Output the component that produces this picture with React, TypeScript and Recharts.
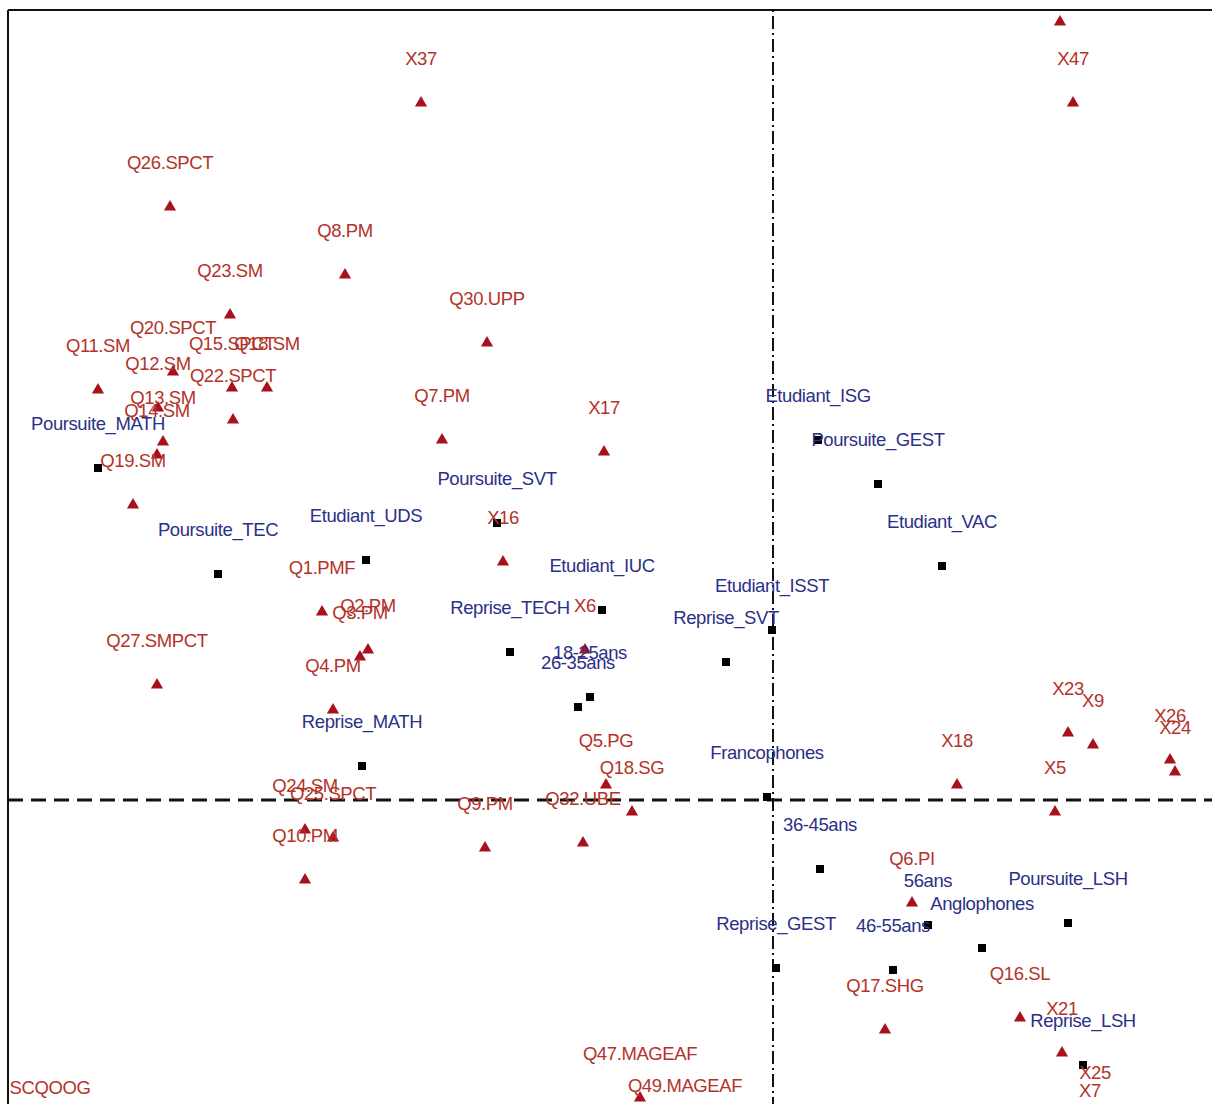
import {
  ScatterChart,
  Scatter,
  XAxis,
  YAxis,
  ZAxis,
  ReferenceLine,
  LabelList,
} from "recharts";

// modalities (red triangles)
const modNames = [
  "X37", "X47", "", "Q26.SPCT", "Q8.PM", "Q23.SM", "Q30.UPP", "Q20.SPCT",
  "Q15.SPCT", "Q18.SM", "Q11.SM", "Q12.SM", "Q22.SPCT", "Q13.SM", "Q14.SM",
  "Q19.SM", "Q7.PM", "X17", "X16", "Q1.PMF", "Q3.PM", "Q2.PM", "Q4.PM",
  "Q27.SMPCT", "Q24.SM", "Q25.SPCT", "Q10.PM", "Q9.PM", "Q32.UBE", "Q5.PG",
  "Q18.SG", "X6", "X18", "X23", "X9", "X5", "X26", "X24", "Q6.PI", "Q17.SHG",
  "Q16.SL", "X21", "X25", "X7", "Q47.MAGEAF", "Q49.MAGEAF", "SCQOOG",
];
const modX = [
  -0.704, 0.6, 0.574, -1.206, -0.856, -1.086, -0.572, -1.2,
  -1.082, -1.012, -1.35, -1.23, -1.08, -1.22, -1.232,
  -1.28, -0.662, -0.338, -0.54, -0.902, -0.826, -0.81, -0.88,
  -1.232, -0.936, -0.88, -0.936, -0.576, -0.38, -0.334,
  -0.282, -0.376, 0.368, 0.59, 0.64, 0.564, 0.794, 0.804, 0.278, 0.224,
  0.494, 0.578, 0.644, 0.634, -0.266, -0.176, -1.446,
];
const modY = [
  1.394, 1.394, 1.556, 1.186, 1.05, 0.97, 0.914, 0.856,
  0.824, 0.824, 0.82, 0.784, 0.76, 0.716, 0.69,
  0.59, 0.72, 0.696, 0.476, 0.376, 0.286, 0.3, 0.18,
  0.23, -0.06, -0.076, -0.16, -0.096, -0.086, 0.03,
  -0.024, 0.3, 0.03, 0.134, 0.11, -0.024, 0.08, 0.056, -0.206, -0.46,
  -0.436, -0.506, -0.634, -0.67, -0.596, -0.66, -0.664,
];

// individuals' groups (black squares, blue labels)
const grpNames = [
  "Poursuite_MATH", "Poursuite_TEC", "Etudiant_UDS", "Poursuite_SVT",
  "Reprise_MATH", "Reprise_TECH", "Etudiant_IUC", "26-35ans", "18-25ans",
  "Etudiant_ISST", "Reprise_SVT", "Francophones", "Etudiant_ISG",
  "Poursuite_GEST", "Etudiant_VAC", "36-45ans", "56ans", "Anglophones",
  "Poursuite_LSH", "Reprise_GEST", "46-55ans", "Reprise_LSH",
];
const grpX = [
  -1.35, -1.11, -0.814, -0.552, -0.822, -0.526, -0.342, -0.39, -0.366,
  -0.002, -0.094, -0.012, 0.09, 0.21, 0.338, 0.094, 0.31, 0.418,
  0.59, 0.006, 0.24, 0.62,
];
const grpY = [
  0.664, 0.452, 0.48, 0.554, 0.068, 0.296, 0.38, 0.186, 0.206,
  0.34, 0.276, 0.006, 0.72, 0.632, 0.468, -0.138, -0.25, -0.296,
  -0.246, -0.336, -0.34, -0.53,
];

const modData = modNames.map((name, i) => ({ name, x: modX[i], y: modY[i] }));
const grpData = grpNames.map((name, i) => ({ name, x: grpX[i], y: grpY[i] }));

const makeLabel = (color: string) => (props: any) => {
  const { x, y, width, height, value } = props;
  const cx = Number(x) + Number(width) / 2;
  const cy = Number(y) + Number(height) / 2;
  return (
    <text
      x={cx}
      y={cy - 45}
      textAnchor="middle"
      dominantBaseline="central"
      fill={color}
      fontSize={18.5}
      fontFamily="'Liberation Sans', Arial, sans-serif"
      letterSpacing={-0.4}
    >
      {value}
    </text>
  );
};

export default function App() {
  return (
    <div
      style={{
        position: "absolute",
        left: 0,
        top: 0,
        width: 1212,
        height: 1104,
        overflow: "hidden",
        background: "#fff",
      }}
    >
      <ScatterChart
        width={1213}
        height={1110}
        margin={{ top: 10, right: 0, left: 8, bottom: 0 }}
      >
        <XAxis
          type="number"
          dataKey="x"
          domain={[-1.53, 0.88]}
          allowDataOverflow
          hide
        />
        <YAxis
          type="number"
          dataKey="y"
          domain={[-0.62, 1.58]}
          allowDataOverflow
          hide
        />
        <ZAxis zAxisId="m" range={[30, 30]} />
        <ZAxis zAxisId="g" range={[20, 20]} />
        <ReferenceLine x={-1.53} stroke="#111" strokeWidth={2} />
        <ReferenceLine y={1.58} stroke="#111" strokeWidth={2} />
        <ReferenceLine
          x={0}
          stroke="#111"
          strokeWidth={2}
          strokeDasharray="13 4 2 4"
        />
        <ReferenceLine
          y={0}
          stroke="#111"
          strokeWidth={3}
          strokeDasharray="15 8"
        />
        <Scatter
          data={grpData}
          zAxisId="g"
          fill="#000"
          shape="square"
          legendType="none"
          isAnimationActive={false}
        >
          <LabelList dataKey="name" content={makeLabel("#2b3088")} />
        </Scatter>
        <Scatter
          data={modData}
          zAxisId="m"
          fill="#a8101c"
          shape="triangle"
          legendType="none"
          isAnimationActive={false}
        >
          <LabelList dataKey="name" content={makeLabel("#b3332a")} />
        </Scatter>
      </ScatterChart>
    </div>
  );
}
